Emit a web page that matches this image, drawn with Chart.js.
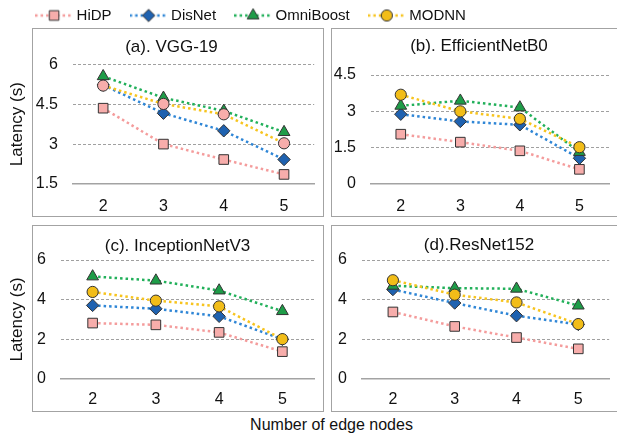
<!DOCTYPE html>
<html><head><meta charset="utf-8">
<script src="https://cdn.jsdelivr.net/npm/chart.js@4"></script>
<style>
html,body{margin:0;padding:0;background:#fff;}
#wrap{position:relative;width:617px;height:437px;overflow:hidden;font-family:"Liberation Sans",Arial,Helvetica,sans-serif;background:#fff;}
.box{position:absolute;border:1.5px solid #a3a3a3;box-sizing:border-box;}
canvas{position:absolute;}
#xt{position:absolute;left:0;width:663px;top:416px;line-height:18px;text-align:center;font-size:16px;color:#111;}
</style></head>
<body>
<div id="wrap">
  <div class="box" style="left:32px;top:28px;width:292px;height:189px"></div>
  <div class="box" style="left:331px;top:28px;width:300px;height:189px"></div>
  <div class="box" style="left:32px;top:225px;width:292px;height:187px"></div>
  <div class="box" style="left:331px;top:225px;width:300px;height:187px"></div>
  <canvas id="leg" width="505" height="130" style="left:0;top:-14.5px"></canvas>
  <canvas id="ca" width="322" height="188" style="left:0;top:28px"></canvas>
  <canvas id="cb" width="286" height="188" style="left:331px;top:28px"></canvas>
  <canvas id="cc" width="322" height="186" style="left:0;top:225px"></canvas>
  <canvas id="cd" width="286" height="186" style="left:331px;top:225px"></canvas>
  <div id="xt">Number of edge nodes</div>
</div>
<script>
// ---- data ----
const categories = ['2', '3', '4', '5'];
const seriesNames = ['HiDP', 'DisNet', 'OmniBoost', 'MODNN'];
const panelTitles = ['(a). VGG-19', '(b). EfficientNetB0', '(c). InceptionNetV3', '(d).ResNet152'];
const yAxisTitle = 'Latency (s)';

const vggHiDP   = [4.35, 3.00, 2.42, 1.86];
const vggDisNet = [5.22, 4.16, 3.50, 2.42];
const vggOmni   = [5.55, 4.74, 4.25, 3.45];
const vggMODNN  = [5.20, 4.51, 4.12, 3.03];

const effHiDP   = [2.04, 1.71, 1.35, 0.58];
const effDisNet = [2.87, 2.57, 2.43, 1.04];
const effOmni   = [3.22, 3.43, 3.15, 1.30];
const effMODNN  = [3.68, 2.99, 2.68, 1.50];

const incHiDP   = [2.82, 2.73, 2.35, 1.38];
const incDisNet = [3.71, 3.54, 3.16, 2.00];
const incOmni   = [5.17, 4.96, 4.46, 3.42];
const incMODNN  = [4.39, 3.95, 3.66, 2.01];

const resHiDP   = [3.38, 2.65, 2.09, 1.52];
const resDisNet = [4.51, 3.83, 3.19, 2.75];
const resOmni   = [4.70, 4.58, 4.55, 3.70];
const resMODNN  = [4.98, 4.25, 3.86, 2.77];

// ---- styles ----
const FONT = '"Liberation Sans", Arial, Helvetica, sans-serif';
Chart.defaults.font.family = FONT;
Chart.defaults.color = '#111';
const lineColors = ['#f49c9c', '#2f86d6', '#22b05a', '#f7c41e'];
const fillColors = ['#f7adab', '#1f62b0', '#1e9c48', '#f2bd18'];
const pointStyles = ['rect', 'rectRot', 'triangle', 'circle'];
const pointRadii = [6.8, 6.2, 6.8, 5.6];
const DASH = [2.5, 3];

const panelTitlePlugin = {
  id: 'panelTitle',
  afterDraw(chart, args, o) {
    if (!o || !o.text) return;
    const ctx = chart.ctx;
    ctx.save();
    ctx.font = '17px ' + FONT;
    ctx.fillStyle = '#111';
    ctx.textAlign = 'center';
    ctx.textBaseline = 'middle';
    ctx.fillText(o.text, o.x, o.y);
    ctx.restore();
  }
};

function makeDatasets(arrs, modnnFill) {
  const order = [3, 2, 1, 0];
  return arrs.map((d, i) => ({
    label: seriesNames[i],
    data: d,
    borderColor: lineColors[i],
    borderWidth: 2.5,
    borderDash: DASH,
    fill: false,
    tension: 0,
    pointStyle: pointStyles[i],
    pointRadius: pointRadii[i],
    pointHoverRadius: pointRadii[i],
    pointBackgroundColor: (i === 3 && modnnFill) ? modnnFill : fillColors[i],
    pointBorderColor: '#333',
    pointBorderWidth: 1,
    order: order[i],
    clip: false
  }));
}

function makePanel(id, arrs, cfg) {
  const min = cfg.min;
  new Chart(document.getElementById(id), {
    type: 'line',
    data: { labels: categories, datasets: makeDatasets(arrs, cfg.modnnFill) },
    plugins: [panelTitlePlugin],
    options: {
      responsive: false, animation: false, devicePixelRatio: 1,
      layout: { padding: { top: cfg.padTop, right: cfg.padRight, left: 0, bottom: 0 } },
      plugins: {
        legend: { display: false }, tooltip: { enabled: false },
        panelTitle: { text: cfg.title, x: cfg.titleX, y: cfg.titleY }
      },
      scales: {
        x: {
          offset: true,
          grid: { display: false, drawTicks: false },
          border: { display: true, color: '#a3a3a3', width: 1.5 },
          ticks: { font: { size: 16 }, color: '#111', padding: cfg.xPad, maxRotation: 0 },
          afterFit: s => { s.height = cfg.xH; }
        },
        y: {
          min: cfg.min, max: cfg.max,
          ticks: { stepSize: cfg.step, font: { size: 16 }, color: '#111', padding: 15 },
          grid: {
            drawTicks: false, lineWidth: 1,
            color: c => (c.tick && Math.abs(c.tick.value - min) < 1e-9) ? 'rgba(0,0,0,0)' : '#a0a0a0'
          },
          border: { display: false, dash: [3, 2] },
          title: cfg.yTitle ? { display: true, text: yAxisTitle, font: { size: 17 }, color: '#111', padding: { top: 6.8, bottom: 0 } } : { display: false },
          afterFit: s => { s.width = cfg.yW; }
        }
      }
    }
  });
}

makePanel('ca', [vggHiDP, vggDisNet, vggOmni, vggMODNN], {
  title: panelTitles[0], titleX: 171.5, titleY: 19,
  min: 1.5, max: 6, step: 1.5, padTop: 36.3, padRight: 4, yW: 73, xH: 32, xPad: 13.4, yTitle: true,
  modnnFill: fillColors[0]
});
makePanel('cb', [effHiDP, effDisNet, effOmni, effMODNN], {
  title: panelTitles[1], titleX: 148, titleY: 18.7,
  min: 0, max: 4.5, step: 1.5, padTop: 47, padRight: 2, yW: 40, xH: 32.7, xPad: 13.8, yTitle: false
});
makePanel('cc', [incHiDP, incDisNet, incOmni, incMODNN], {
  title: panelTitles[2], titleX: 177.5, titleY: 21.7,
  min: 0, max: 6, step: 2, padTop: 35, padRight: 8, yW: 61, xH: 32, xPad: 11.4, yTitle: true
});
makePanel('cd', [resHiDP, resDisNet, resOmni, resMODNN], {
  title: panelTitles[3], titleX: 148, titleY: 20,
  min: 0, max: 6, step: 2, padTop: 35, padRight: 4, yW: 31, xH: 32, xPad: 11.4, yTitle: false
});

// ---- legend ----
function makeIcon(i) {
  const c = document.createElement('canvas');
  c.width = 38; c.height = 16;
  const g = c.getContext('2d');
  g.strokeStyle = lineColors[i]; g.lineWidth = 2.5; g.setLineDash(DASH);
  g.beginPath(); g.moveTo(0, 8); g.lineTo(38, 8); g.stroke();
  g.setLineDash([]);
  g.fillStyle = fillColors[i]; g.strokeStyle = '#333'; g.lineWidth = 1;
  if (Chart.helpers && Chart.helpers.drawPoint) {
    Chart.helpers.drawPoint(g, { pointStyle: pointStyles[i], radius: pointRadii[i], borderWidth: 1, rotation: 0 }, 19, 8);
  } else {
    g.beginPath(); g.arc(19, 8, 5, 0, Math.PI * 2); g.fill(); g.stroke();
  }
  return c;
}
const icons = seriesNames.map((s, i) => makeIcon(i));
new Chart(document.getElementById('leg'), {
  type: 'line',
  data: { labels: [], datasets: seriesNames.map((s) => ({ label: s, data: [] })) },
  options: {
    responsive: false, animation: false, devicePixelRatio: 1,
    scales: { x: { display: false }, y: { display: false } },
    plugins: {
      tooltip: { enabled: false },
      legend: {
        display: true, position: 'top',
        labels: {
          usePointStyle: true, pointStyleWidth: 30, padding: 22,
          font: { size: 15 }, color: '#111',
          generateLabels: () => seriesNames.map((s, i) => ({
            text: s, pointStyle: icons[i], fillStyle: 'rgba(0,0,0,0)', strokeStyle: 'rgba(0,0,0,0)',
            lineWidth: 0, hidden: false, datasetIndex: i, fontColor: '#111'
          }))
        }
      }
    }
  }
});
</script>
</body></html>
